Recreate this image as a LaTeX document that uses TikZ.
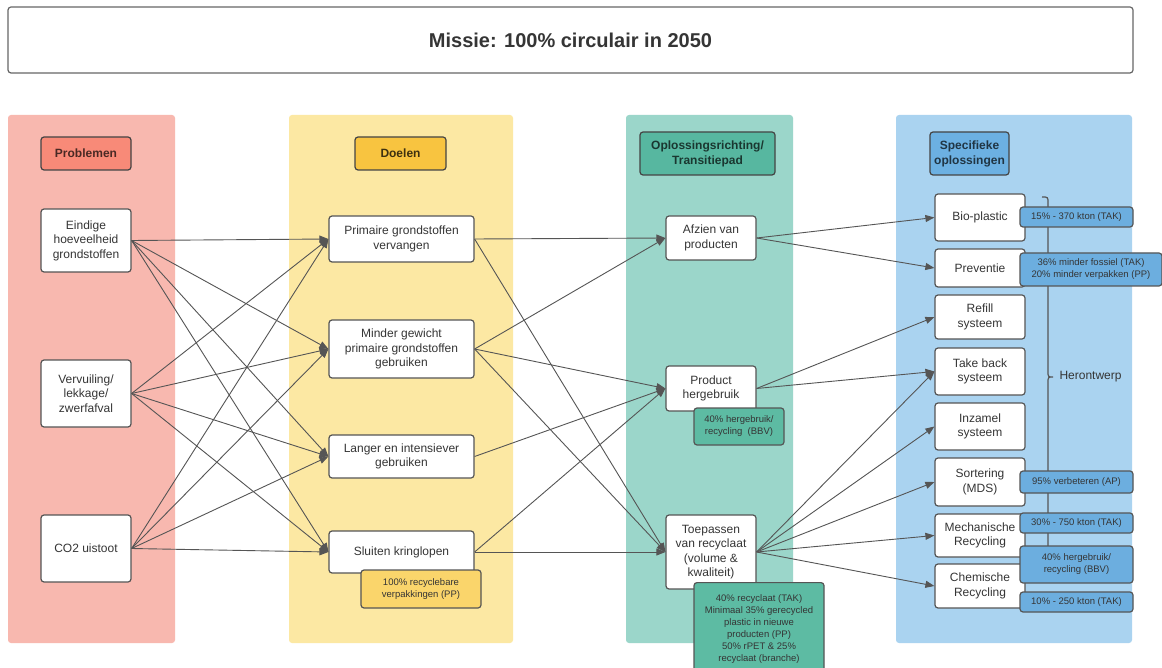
\documentclass[tikz,border=0pt]{standalone}
\usepackage{fontspec}
\setmainfont{Liberation Sans}
\usetikzlibrary{arrows.meta}
\definecolor{linec}{HTML}{555555}
\definecolor{textc}{HTML}{353535}
\definecolor{arrowc}{HTML}{555555}
\definecolor{bgred}{HTML}{F8B8AF}
\definecolor{bgyellow}{HTML}{FCE8A3}
\definecolor{bgteal}{HTML}{9BD6CA}
\definecolor{bgblue}{HTML}{AAD3F0}
\definecolor{hdred}{HTML}{F88A78}
\definecolor{hdyellow}{HTML}{F8C440}
\definecolor{hdteal}{HTML}{57B7A0}
\definecolor{hdblue}{HTML}{6CB0E2}
\definecolor{tgyellow}{HTML}{FAD56B}
\definecolor{tgteal}{HTML}{5DBBA3}
\definecolor{tgblue}{HTML}{6CAEDF}
\begin{document}
\begin{tikzpicture}[x=1pt,y=-1pt,
  colbg/.style={fill=#1, rounded corners=3pt, draw=none},
  box/.style={draw=linec, fill=white, rounded corners=3pt, line width=1.2pt, align=center,
    font=\fontsize{12}{14.5}\selectfont, text=textc, inner sep=1pt},
  head/.style={draw=linec!80!black, fill=#1, rounded corners=3pt, line width=1.2pt, align=center,
    font=\fontsize{12}{15}\selectfont\bfseries, inner sep=1pt},
  tag/.style={draw=linec, fill=#1, rounded corners=3pt, line width=1.2pt, align=center,
    font=\fontsize{9.5}{12}\selectfont, text=textc, inner sep=1pt},
  edge/.style={draw=arrowc, line width=0.9pt, -{Triangle[length=9pt,width=7pt]}}
]
\useasboundingbox (0,0) rectangle (1162,668);
\fill[white] (0,0) rectangle (1162,668);

% column backgrounds
\fill[colbg=bgred]    (8,115) rectangle (175,643);
\fill[colbg=bgyellow] (289,115) rectangle (513,643);
\fill[colbg=bgteal]   (626,115) rectangle (793,643);
\fill[colbg=bgblue]   (896,115) rectangle (1132,643);

% title
\node[draw=linec!90, rounded corners=3pt, line width=1.2pt, minimum width=1125, minimum height=66,
  font=\fontsize{20}{24}\selectfont\bfseries, text=textc] (title) at (570.5,40) {Missie: 100\% circulair in 2050};

% headers
\node[head=hdred, minimum width=90, minimum height=33, text=hdred!30!black] (h1) at (86,153.5) {Problemen};
\node[head=hdyellow, minimum width=91, minimum height=33, text=hdyellow!25!black] (h2) at (400.5,153.5) {Doelen};
\node[head=hdteal, minimum width=135, minimum height=43, text=hdteal!30!black] (h3) at (707.5,153.5) {Oplossingsrichting/\\Transitiepad};
\node[head=hdblue, minimum width=79, minimum height=43, text=hdblue!30!black] (h4) at (969.5,153.5) {Specifieke\\oplossingen};

% column 1
\node[box, minimum width=90, minimum height=63] (E) at (86,240.5) {Eindige\\hoeveelheid\\grondstoffen};
\node[box, minimum width=90, minimum height=67] (V) at (86,393.5) {Vervuiling/\\lekkage/\\zwerfafval};
\node[box, minimum width=90, minimum height=67] (C) at (86,548.5) {CO2 uistoot};

% column 2
\node[box, minimum width=145, minimum height=46] (P) at (401.5,239) {Primaire grondstoffen\\vervangen};
\node[box, minimum width=145, minimum height=58] (M) at (401.5,349) {Minder gewicht\\primaire grondstoffen\\gebruiken};
\node[box, minimum width=145, minimum height=43] (L) at (401.5,456.5) {Langer en intensiever\\gebruiken};
\node[box, minimum width=145, minimum height=42] (S) at (401.5,552) {Sluiten kringlopen};

% column 3
\node[box, minimum width=90, minimum height=44] (A) at (711,238) {Afzien van\\producten};
\node[box, minimum width=90, minimum height=45] (H) at (711,388.5) {Product\\hergebruik};
\node[box, minimum width=90, minimum height=74] (T) at (711,552) {Toepassen\\van recyclaat\\(volume \&\\kwaliteit)};

% column 4
\node[box, minimum width=90, minimum height=47] (B1) at (980,217.5) {Bio-plastic};
\node[box, minimum width=90, minimum height=38] (B2) at (980,268) {Preventie};
\node[box, minimum width=90, minimum height=44] (B3) at (980,317) {Refill\\systeem};
\node[box, minimum width=90, minimum height=47] (B4) at (980,371.5) {Take back\\systeem};
\node[box, minimum width=90, minimum height=47] (B5) at (980,426.5) {Inzamel\\systeem};
\node[box, minimum width=90, minimum height=48] (B6) at (980,482) {Sortering\\(MDS)};
\node[box, minimum width=90, minimum height=43] (B7) at (980,535.5) {Mechanische\\Recycling};
\node[box, minimum width=90, minimum height=44] (B8) at (980,586) {Chemische\\Recycling};

% edges
\foreach \s in {E,V,C}{
  \foreach \t in {P,M,L,S}{
    \draw[edge] (\s.east) -- (\t.west);
  }
}
\foreach \s/\t in {P/A,P/T,M/A,M/H,M/T,L/H,S/H,S/T,A/B1,A/B2,H/B3,H/B4,T/B4,T/B5,T/B6,T/B7,T/B8}{
  \draw[edge] (\s.east) -- (\t.west);
}

% brace
\draw[linec, line width=1.2pt] (1042,197) .. controls (1048,197) .. (1048,203) -- (1048,371)
  .. controls (1048,377) .. (1053,377) .. controls (1048,377) .. (1048,383) -- (1048,551)
  .. controls (1048,557) .. (1042,557);
\node[font=\fontsize{12}{14.5}\selectfont, text=textc, anchor=west] (hero) at (1056,377) {Herontwerp};

% tags
\node[tag=tgyellow, minimum width=120, minimum height=38] (tS) at (421,589) {100\% recyclebare\\verpakkingen (PP)};
\node[tag=tgteal, minimum width=90, minimum height=37] (tH) at (739,426.5) {40\% hergebruik/\\recycling\ \ (BBV)};
\node[tag=tgteal, minimum width=130, minimum height=92, anchor=north, inner sep=3pt] (tT) at (759,582) {40\% recyclaat (TAK)\\Minimaal 35\% gerecycled\\plastic in nieuwe\\producten (PP)\\50\% rPET \& 25\%\\recyclaat (branche)};
\node[tag=tgblue, minimum width=113, minimum height=20] (t1) at (1076.5,217) {15\% - 370 kton (TAK)};
\node[tag=tgblue, minimum width=142, minimum height=33] (t2) at (1091,269.5) {36\% minder fossiel (TAK)\\20\% minder verpakken (PP)};
\node[tag=tgblue, minimum width=113, minimum height=22] (t3) at (1076.5,482) {95\% verbeteren (AP)};
\node[tag=tgblue, minimum width=113, minimum height=20] (t4) at (1076.5,523) {30\% - 750 kton (TAK)};
\node[tag=tgblue, minimum width=113, minimum height=37] (t5) at (1076.5,564.5) {40\% hergebruik/\\recycling (BBV)};
\node[tag=tgblue, minimum width=113, minimum height=20] (t6) at (1076.5,602) {10\% - 250 kton (TAK)};
\end{tikzpicture}
\end{document}
